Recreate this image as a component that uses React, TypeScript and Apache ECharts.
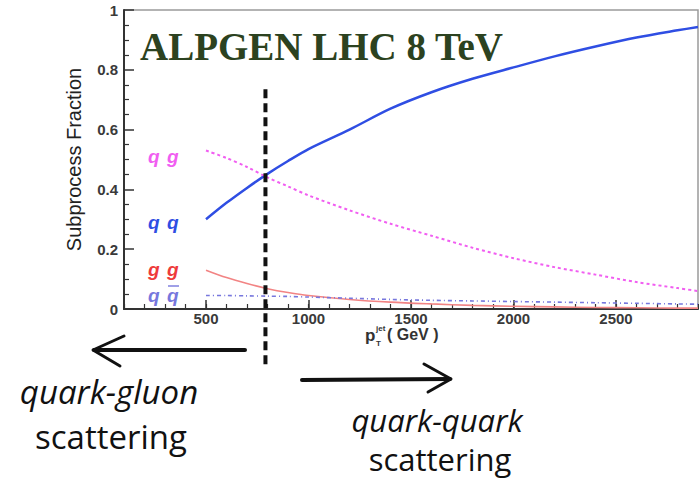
import React, { useEffect, useRef } from "react";
import * as echarts from "echarts";

// Transverse momentum of the leading jet (GeV)
const ptValues = [500, 600, 700, 800, 900, 1000, 1200, 1400, 1600, 1800, 2000, 2200, 2400, 2600, 2800, 2900];

// Subprocess fractions per pT point
const qqFraction = [0.3, 0.355, 0.405, 0.452, 0.495, 0.535, 0.6, 0.67, 0.725, 0.77, 0.808, 0.845, 0.878, 0.908, 0.932, 0.943];
const qgFraction = [0.53, 0.505, 0.475, 0.44, 0.41, 0.38, 0.33, 0.285, 0.245, 0.205, 0.17, 0.14, 0.115, 0.09, 0.07, 0.06];
const ggFraction = [0.13, 0.105, 0.085, 0.068, 0.055, 0.045, 0.032, 0.023, 0.017, 0.012, 0.009, 0.007, 0.005, 0.004, 0.003, 0.003];
const qqbarFraction = [0.045, 0.045, 0.044, 0.043, 0.042, 0.04, 0.036, 0.032, 0.029, 0.027, 0.025, 0.023, 0.021, 0.019, 0.017, 0.016];

// Axis setup
const xMin = 100;
const xMax = 2900;
const xMajorTicks = [500, 1000, 1500, 2000, 2500];
const yTicks = [0, 0.2, 0.4, 0.6, 0.8, 1];

// Transition between quark-gluon and quark-quark dominated regimes
const crossoverPt = 790;
const crossoverSpan = [0.735, -0.185];

const COLORS = {
  qq: "#2f4ee3",
  qg: "#f15ef1",
  gg: "#f28484",
  qqbar: "#7777dd",
};

// Parton labels drawn beside the curve starts: [first, second, y, colour]
const partonLabels: [string, string, number, string][] = [
  ["q", "g", 156, COLORS.qg],
  ["q", "q", 222, COLORS.qq],
  ["g", "g", 269, "#ee3b3b"],
  ["q", "q", 295, COLORS.qqbar],
];

const pairs = (ys: number[]) => ptValues.map((x, i) => [x, ys[i]]);

export default function App() {
  const ref = useRef<HTMLDivElement>(null);

  useEffect(() => {
    if (!ref.current) return;
    const chart = echarts.init(ref.current, undefined, { renderer: "svg" });

    const axisFont = {
      fontFamily: "Liberation Sans",
      fontWeight: "bold" as const,
      fontSize: 15,
      color: "#3a3a3a",
    };
    const handFont = "Open Sans";

    const labelGlyph = (t: string, x: number, y: number, c: string) => ({
      type: "text",
      x,
      y,
      style: {
        text: t,
        fontFamily: "Liberation Sans",
        fontStyle: "italic",
        fontWeight: "bold",
        fontSize: 19,
        fill: c,
        verticalAlign: "middle",
      },
    });

    chart.setOption({
      animation: false,
      backgroundColor: "#ffffff",
      grid: {
        left: 124,
        top: 10,
        right: 1,
        bottom: 171,
        show: true,
        borderColor: "#9a9a9a",
        borderWidth: 1.5,
      },
      xAxis: [
        {
          type: "value",
          min: xMin,
          max: xMax,
          axisLine: { show: true, onZero: false, lineStyle: { color: "#333", width: 2 } },
          axisTick: {
            show: true,
            inside: true,
            length: 9,
            customValues: xMajorTicks,
            lineStyle: { color: "#333", width: 1.5 },
          },
          axisLabel: {
            ...axisFont,
            margin: 2,
            customValues: xMajorTicks,
            formatter: (v: number) => String(v),
          },
          splitLine: { show: false },
        },
        {
          type: "value",
          min: xMin,
          max: xMax,
          interval: 100,
          position: "bottom",
          axisLine: { show: false },
          axisTick: { show: true, inside: true, length: 5, lineStyle: { color: "#333", width: 1.2 } },
          axisLabel: { show: false },
          splitLine: { show: false },
        },
      ],
      yAxis: {
        type: "value",
        min: 0,
        max: 1,
        interval: 0.2,
        name: "Subprocess Fraction",
        nameLocation: "middle",
        nameGap: 40,
        nameTextStyle: {
          fontFamily: "Liberation Sans",
          fontSize: 20,
          color: "#222",
        },
        axisLine: { show: true, lineStyle: { color: "#333", width: 2 } },
        axisTick: { show: true, inside: true, length: 10, lineStyle: { color: "#333", width: 1.5 } },
        minorTick: { show: true, splitNumber: 4, length: 5, lineStyle: { color: "#333", width: 1.2 } },
        axisLabel: {
          ...axisFont,
          margin: 6,
          customValues: yTicks,
          formatter: (v: number) => String(Number(v.toFixed(1))),
        },
        splitLine: { show: false },
        minorSplitLine: { show: false },
      },
      series: [
        {
          type: "line",
          name: "qq",
          data: pairs(qqFraction),
          smooth: 0.3,
          symbol: "none",
          lineStyle: { color: COLORS.qq, width: 2.5 },
        },
        {
          type: "line",
          name: "qg",
          data: pairs(qgFraction),
          smooth: 0.3,
          symbol: "none",
          lineStyle: { color: COLORS.qg, width: 2, type: [3, 3] },
        },
        {
          type: "line",
          name: "gg",
          data: pairs(ggFraction),
          smooth: 0.3,
          symbol: "none",
          lineStyle: { color: COLORS.gg, width: 1.6 },
        },
        {
          type: "line",
          name: "qqbar",
          data: pairs(qqbarFraction),
          smooth: 0.3,
          symbol: "none",
          lineStyle: { color: COLORS.qqbar, width: 1.6, type: [4, 3, 1, 3] },
        },
        {
          type: "line",
          name: "crossover",
          data: crossoverSpan.map((y) => [crossoverPt, y]),
          clip: false,
          symbol: "none",
          lineStyle: { color: "#111", width: 4, type: [9, 5] },
          z: 5,
        },
      ],
      graphic: [
        {
          type: "text",
          left: 140,
          top: 27,
          style: {
            text: "ALPGEN LHC 8 TeV",
            fontFamily: "Liberation Serif",
            fontWeight: "bold",
            fontSize: 39,
            fill: "#2c4220",
          },
        },
        // parton labels
        ...partonLabels.flatMap(([a, b, y, c]) => [labelGlyph(a, 148, y, c), labelGlyph(b, 167, y, c)]),
        {
          type: "line",
          shape: { x1: 168, y1: 286, x2: 179, y2: 286 },
          style: { stroke: COLORS.qqbar, lineWidth: 1.4 },
        },
        // x-axis title p_T^jet (GeV)
        {
          type: "group",
          left: 365,
          top: 324,
          children: [
            {
              type: "text",
              x: 0,
              y: 3,
              style: { text: "p", fontFamily: "Liberation Sans", fontWeight: "bold", fontSize: 17, fill: "#333" },
            },
            {
              type: "text",
              x: 11,
              y: 15,
              style: { text: "T", fontFamily: "Liberation Sans", fontWeight: "bold", fontSize: 8, fill: "#333" },
            },
            {
              type: "text",
              x: 11,
              y: 0,
              style: { text: "jet", fontFamily: "Liberation Sans", fontWeight: "bold", fontSize: 8, fill: "#333" },
            },
            {
              type: "text",
              x: 22,
              y: 2,
              style: { text: "( GeV )", fontFamily: "Liberation Sans", fontWeight: "bold", fontSize: 16, fill: "#333" },
            },
          ],
        },
        // arrows
        {
          type: "polyline",
          shape: { points: [[245, 350], [94, 350]] },
          style: { stroke: "#111", lineWidth: 4, lineCap: "round" },
        },
        {
          type: "polyline",
          shape: { points: [[124, 336], [93, 350], [120, 366]] },
          style: { stroke: "#111", lineWidth: 3, fill: null, lineJoin: "round", lineCap: "round" },
        },
        {
          type: "polyline",
          shape: { points: [[302, 380], [450, 379]] },
          style: { stroke: "#111", lineWidth: 4, lineCap: "round" },
        },
        {
          type: "polyline",
          shape: { points: [[424, 364], [451, 379], [428, 392]] },
          style: { stroke: "#111", lineWidth: 3, fill: null, lineJoin: "round", lineCap: "round" },
        },
        // regime annotations
        {
          type: "text",
          x: 109,
          y: 391,
          style: {
            text: "quark-gluon",
            fontFamily: handFont,
            fontStyle: "italic",
            fontSize: 33,
            fill: "#111",
            align: "center",
            verticalAlign: "middle",
          },
        },
        {
          type: "text",
          x: 111,
          y: 436,
          style: {
            text: "scattering",
            fontFamily: handFont,
            fontSize: 33,
            fill: "#111",
            align: "center",
            verticalAlign: "middle",
          },
        },
        {
          type: "text",
          x: 437,
          y: 420,
          style: {
            text: "quark-quark",
            fontFamily: handFont,
            fontStyle: "italic",
            fontSize: 31,
            fill: "#111",
            align: "center",
            verticalAlign: "middle",
          },
        },
        {
          type: "text",
          x: 440,
          y: 459,
          style: {
            text: "scattering",
            fontFamily: handFont,
            fontSize: 31,
            fill: "#111",
            align: "center",
            verticalAlign: "middle",
          },
        },
      ],
    });

    return () => chart.dispose();
  }, []);

  return (
    <div
      ref={ref}
      style={{ position: "fixed", left: 0, top: 0, width: 699, height: 480, background: "#fff" }}
    />
  );
}
